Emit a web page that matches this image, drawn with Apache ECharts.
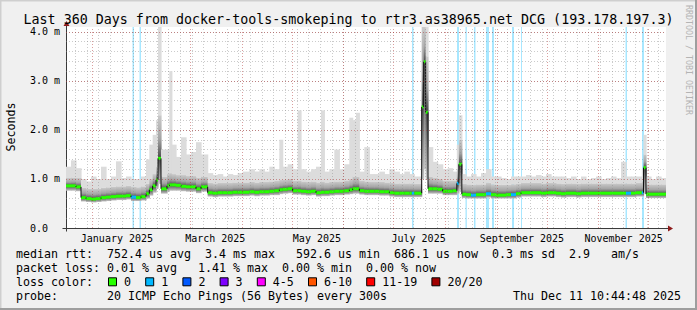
<!DOCTYPE html>
<html><head><meta charset="utf-8">
<script src="https://cdn.jsdelivr.net/npm/echarts@6/dist/echarts.min.js"></script>
<style>html,body{margin:0;padding:0;background:#f0f0f0}#c{width:697px;height:310px}</style>
</head><body><div id="c"></div><script>
// ---------- data (days since start of the 360-day window) ----------
const START = Date.UTC(2024, 11, 16, 10, 44, 48);
const DAY = 86400000;
const SPAN_DAYS = 360;

const segStart = [0,3,6,9,12,15,18,21,24,27,30,33,36,39,42,45,
 48,50,52,54,55.2,57,60.6,62,63.5,
 66,69,72,75,78,81,
 85,88,91,94,97,100,103,106,
 110,113,116,119,122,125,
 128,130,133,136,139,141,144,147,150,153,155,158,161,164,167,170,172,174,176,179,182,185,188,191,194,197,200,203,206,207.5,209,
 213.4,214.6,215.8,217.2,220,223,226,229,232,234.5,235.7,237.5,240,243,246,249,252,255,258,261,264,267,270,
 273,276,279,282,285,288,291,294,297,300,303,306,309,312,315,318,321,324,327,330,333,336,339,342,
 345.5,346.5,348,351,354,357];

const median = [0.86,0.86,0.84,0.62,0.60,0.59,0.60,0.62,0.63,0.64,0.65,0.65,0.66,0.63,0.62,0.64,
 0.70,0.78,0.86,0.98,1.42,0.80,0.86,0.88,0.88,
 0.87,0.85,0.84,0.84,0.80,0.84,
 0.72,0.71,0.72,0.72,0.72,0.73,0.73,0.73,
 0.74,0.73,0.74,0.74,0.75,0.76,
 0.78,0.79,0.80,0.76,0.76,0.75,0.74,0.75,0.72,0.73,0.73,0.74,0.75,0.75,0.76,0.78,0.80,0.80,0.76,0.75,0.75,0.75,0.74,0.74,0.72,0.71,0.71,0.71,0.71,0.71,0.71,
 2.47,3.39,2.36,0.80,0.80,0.79,0.75,0.75,0.76,0.91,1.30,0.69,0.68,0.67,0.68,0.68,0.70,0.68,0.67,0.67,0.68,0.68,0.70,
 0.72,0.72,0.72,0.72,0.71,0.72,0.72,0.71,0.70,0.71,0.71,0.70,0.71,0.71,0.71,0.71,0.71,0.71,0.71,0.71,0.71,0.71,0.71,0.72,
 0.72,1.23,0.69,0.69,0.69,0.69];

const smokeLo = [0.76,0.76,0.75,0.54,0.53,0.52,0.53,0.54,0.55,0.56,0.57,0.57,0.58,0.55,0.55,0.56,
 0.60,0.66,0.72,0.80,0.90,0.70,0.74,0.76,0.76,
 0.76,0.75,0.74,0.74,0.71,0.74,
 0.64,0.63,0.64,0.64,0.64,0.65,0.65,0.65,
 0.66,0.65,0.66,0.66,0.67,0.67,
 0.69,0.70,0.71,0.68,0.68,0.67,0.66,0.67,0.64,0.65,0.65,0.66,0.67,0.67,0.68,0.69,0.70,0.70,0.68,0.67,0.67,0.67,0.66,0.66,0.64,0.63,0.63,0.63,0.63,0.63,0.63,
 1.00,1.20,1.00,0.70,0.70,0.70,0.67,0.67,0.67,0.70,0.75,0.61,0.60,0.60,0.60,0.60,0.62,0.60,0.60,0.60,0.60,0.60,0.62,
 0.64,0.64,0.64,0.64,0.63,0.64,0.64,0.63,0.62,0.63,0.63,0.62,0.63,0.63,0.63,0.63,0.63,0.63,0.63,0.63,0.63,0.63,0.63,0.64,
 0.64,0.70,0.61,0.61,0.61,0.61];

const smokeMid = [1.02,1.03,1.02,0.82,0.80,0.80,0.80,0.82,0.83,0.84,0.85,0.85,0.86,0.84,0.83,0.85,
 0.90,1.00,1.10,1.25,2.30,1.05,1.10,1.12,1.10,
 1.08,1.08,1.06,1.06,1.03,1.05,
 0.92,0.91,0.92,0.92,0.92,0.93,0.93,0.93,
 0.94,0.93,0.94,0.94,0.95,0.96,
 0.98,0.99,1.00,0.96,0.97,0.95,0.94,0.95,0.93,0.95,0.93,0.94,0.95,0.95,0.97,1.00,1.05,1.05,0.96,0.95,0.94,0.94,0.94,0.93,0.92,0.91,0.91,0.91,0.91,0.91,0.90,
 4.10,4.10,3.50,1.05,1.02,1.00,0.96,0.96,0.96,1.20,1.80,0.90,0.89,0.88,0.89,0.89,0.92,0.89,0.88,0.88,0.88,0.89,0.90,
 0.92,0.92,0.92,0.92,0.91,0.92,0.92,0.91,0.90,0.91,0.91,0.90,0.91,0.91,0.91,0.91,0.91,0.91,0.91,0.91,0.91,0.91,0.91,0.92,
 0.95,1.50,0.89,0.89,0.89,0.89];

const smokeHi = [1.25,1.38,1.22,1.00,0.95,1.05,1.00,1.25,1.00,1.05,1.36,1.02,1.05,1.00,1.00,1.05,
 1.40,1.70,1.90,2.20,4.10,1.60,1.60,3.20,1.70,
 1.45,1.85,1.50,1.55,1.75,1.50,
 1.12,1.08,1.10,1.05,1.10,1.08,1.12,1.15,
 1.20,1.15,1.20,1.15,1.25,1.20,
 1.80,1.25,1.30,1.20,2.40,1.20,1.15,1.20,1.25,2.40,1.15,1.20,1.60,1.20,1.30,2.25,2.20,2.35,1.15,1.65,1.10,1.10,1.15,1.10,1.20,1.15,1.10,1.15,1.10,1.10,1.05,
 4.10,4.10,4.10,1.65,1.35,1.30,1.20,1.22,1.15,1.70,2.30,1.10,1.05,1.10,1.05,1.12,1.20,1.05,1.05,1.02,1.00,1.05,1.05,
 1.05,1.08,1.05,1.08,1.05,1.10,1.05,1.05,1.05,1.02,1.05,1.00,1.05,1.00,1.02,1.05,1.00,1.02,1.05,1.02,1.35,1.05,1.05,1.05,
 1.20,1.90,1.05,1.00,1.05,1.02];

const lossLevel = [0,0,0,0,0,0,0,0,0,0,0,0,0,1,0,0,
 0,0,0,0,0,0,0,0,0,
 0,0,0,0,0,0,
 0,0,0,0,0,0,0,0,
 0,0,0,0,0,0,
 0,0,0,0,0,0,0,0,0,0,0,0,0,0,0,0,0,0,0,0,0,0,0,0,0,0,0,0,0,1,0,
 0,0,0,0,0,0,0,0,0,1,0,0,0,1,0,0,1,0,0,0,0,1,0,
 0,0,0,0,0,0,0,0,0,0,0,0,0,0,0,0,0,0,0,0,0,1,0,0,
 1,0,0,0,0,0];

// periods with packet loss (background bars), in days
const lossStart = [39.9,44.1,207.6,234.6,239.7,244.8,252.0,255.6,267.6,273.0,335.7,345.6];
const lossEnd   = [40.8,45.0,208.5,235.8,240.5,245.7,253.8,256.8,268.8,273.6,336.6,346.8];

const lossNames  = ['0','1','2','3','4-5','6-10','11-19','20/20'];
const lossColors = ['#26ff00','#00b8ff','#0059ff','#7e00ff','#ff00ff','#ff5500','#ff0000','#a10000'];

const monthLabels = ['January 2025','March 2025','May 2025','July 2025','September 2025','November 2025'];
const monthLabelMonths = [0,2,4,6,8,10]; // labels sit mid-month (16th) of 2025
const yLabels = ['0.0','1.0 m','2.0 m','3.0 m','4.0 m'];

const titleText = 'Last 360 Days from docker-tools-smokeping to rtr3.as38965.net DCG (193.178.197.3)';
const legendLines = [
 'median rtt:  752.4 us avg  3.4 ms max   592.6 us min  686.1 us now  0.3 ms sd  2.9   am/s',
 'packet loss: 0.01 % avg   1.41 % max  0.00 % min  0.00 % now',
 'loss color:',
 'probe:       20 ICMP Echo Pings (56 Bytes) every 300s'
];
const dateText = 'Thu Dec 11 10:44:48 2025';

// ---------- derived ----------
const toDay = ms => (ms - START) / DAY;
const labelDays = monthLabelMonths.map(m => toDay(Date.UTC(2025, m, 16)));
const monthLineDays = [];
for (let m = 0; m < 12; m++) { if (m !== 1) monthLineDays.push(toDay(Date.UTC(2025, m, 1))); }
const weekDays = [];
for (let d = Date.UTC(2024, 11, 22); d < START + SPAN_DAYS * DAY; d += 7 * DAY) weekDays.push(toDay(d));

const n = segStart.length;
const segData = segStart.map((t, i) => [t, i < n - 1 ? segStart[i + 1] : SPAN_DAYS, smokeLo[i], median[i], smokeMid[i], smokeHi[i], lossLevel[i], i > 0 ? median[i - 1] : median[i]]);
const lossData = lossStart.map((s, i) => [s, lossEnd[i]]);

const MONO = "'DejaVu Sans Mono', monospace";
const MINOR = 'rgba(140,140,140,0.45)';
const MAJOR = 'rgba(170,40,40,0.45)';
const YMAX = 4.1;

const chart = echarts.init(document.getElementById('c'), null, {renderer: 'svg', width: 697, height: 310});

function smokeItem(params, api) {
  const cs = params.coordSys;
  const t0 = api.value(0), t1 = api.value(1);
  const lo = api.value(2), med = api.value(3), mid = api.value(4), hi = api.value(5);
  const x0 = api.coord([t0, 0])[0], x1 = api.coord([t1, 0])[0];
  const Y = v => Math.max(cs.y, api.coord([t0, Math.min(v, YMAX)])[1]);
  const w = x1 - x0 + 0.6;
  return {type: 'group', children: [
    {type: 'rect', shape: {x: x0, y: Y(hi), width: w, height: Y(mid) - Y(hi)}, style: {fill: '#dcdcdc'}},
    {type: 'rect', shape: {x: x0, y: Y(mid), width: w, height: Y(med) - Y(mid)},
      style: {fill: new echarts.graphic.LinearGradient(0, 0, 0, 1, [{offset: 0, color: '#cacaca'}, {offset: 0.55, color: '#a4a4a4'}, {offset: 1, color: '#4a4a4a'}])}},
    {type: 'rect', shape: {x: x0, y: Y(med), width: w, height: Y(lo) - Y(med)},
      style: {fill: new echarts.graphic.LinearGradient(0, 0, 0, 1, [{offset: 0, color: '#4a4a4a'}, {offset: 0.5, color: '#8a8a8a'}, {offset: 1, color: '#c4c4c4'}])}}
  ]};
}

function medianItem(params, api) {
  const cs = params.coordSys;
  const t0 = api.value(0), t1 = api.value(1);
  const med = api.value(3), lvl = api.value(6), prev = api.value(7);
  const x0 = api.coord([t0, 0])[0], x1 = api.coord([t1, 0])[0];
  const Y = v => Math.max(cs.y, api.coord([t0, Math.min(v, YMAX)])[1]);
  const children = [
    {type: 'rect', shape: {x: x0, y: Y(med) - 1.5, width: x1 - x0, height: 3}, style: {fill: lossColors[lvl]}}
  ];
  if (Math.abs(prev - med) > 0.02) {
    children.push({type: 'line', shape: {x1: x0, y1: Y(prev), x2: x0, y2: Y(med)}, style: {stroke: '#111', lineWidth: 1}});
  }
  return {type: 'group', children};
}

function lossItem(params, api) {
  const cs = params.coordSys;
  const x0 = api.coord([api.value(0), 0])[0], x1 = api.coord([api.value(1), 0])[0];
  return {type: 'rect', shape: {x: x0, y: cs.y, width: Math.max(1, x1 - x0), height: cs.height}, style: {fill: 'rgba(0,184,255,0.34)'}};
}

const vLine = (d, c) => ({xAxis: d, lineStyle: {color: c, type: [1, 2], width: 1}});
const hLine = (v, c) => ({yAxis: v, lineStyle: {color: c, type: [1, 2], width: 1}});

const option = {
  animation: false,
  backgroundColor: '#f0f0f0',
  grid: {left: 66, top: 27, width: 600, height: 201, show: true, backgroundColor: '#ffffff', borderWidth: 0},
  xAxis: {
    type: 'value', min: 0, max: SPAN_DAYS,
    axisLine: {show: false}, axisTick: {show: false}, splitLine: {show: false},
    axisLabel: {customValues: labelDays, margin: 5, color: '#000', fontFamily: MONO, fontSize: 10,
      formatter: v => { let b = 0; labelDays.forEach((d, i) => { if (Math.abs(d - v) < Math.abs(labelDays[b] - v)) b = i; }); return monthLabels[b]; }}
  },
  yAxis: {
    type: 'value', min: 0, max: YMAX, interval: 0.2,
    axisLine: {show: false}, axisTick: {show: false},
    splitLine: {show: true, showMinLine: false, showMaxLine: false, lineStyle: {color: MINOR, type: [1, 2], width: 1}},
    axisLabel: {align: 'left', margin: 36, color: '#000', fontFamily: MONO, fontSize: 10,
      formatter: v => { const k = Math.round(v); return Math.abs(v - k) < 1e-6 && k < yLabels.length ? yLabels[k] : ''; }}
  },
  series: [
    {type: 'line', data: [[0, 0]], symbol: 'none', lineStyle: {opacity: 0}, silent: true, z: 1,
      markLine: {silent: true, symbol: ['none', 'none'], label: {show: false}, animation: false,
        data: weekDays.map(d => vLine(d, MINOR)).concat(monthLineDays.map(d => vLine(d, MAJOR))).concat([1, 2, 3, 4].map(v => hLine(v, MAJOR)))}},
    {type: 'custom', data: lossData, renderItem: lossItem, silent: true, z: 2, clip: true},
    {type: 'custom', data: segData, renderItem: smokeItem, silent: true, z: 3, clip: true},
    {type: 'custom', data: segData, renderItem: medianItem, silent: true, z: 4, clip: true}
  ],
  graphic: []
};
chart.setOption(option);

// ---------- frame, axes, texts ----------
const p0 = chart.convertToPixel({gridIndex: 0}, [0, 0]);
const pX = chart.convertToPixel({gridIndex: 0}, [SPAN_DAYS, 0]);
const pT = chart.convertToPixel({gridIndex: 0}, [0, YMAX]);
const ox = Math.round(p0[0]) + 0.5, oy = Math.round(p0[1]) + 0.5;
const AX = '#3a3a3a', ARROW = '#8e1b1b';
const g = [
  {type: 'line', shape: {x1: 0, y1: 0.5, x2: 697, y2: 0.5}, style: {stroke: '#cfcfcf', lineWidth: 2}},
  {type: 'line', shape: {x1: 0.5, y1: 0, x2: 0.5, y2: 310}, style: {stroke: '#cfcfcf', lineWidth: 2}},
  {type: 'line', shape: {x1: 0, y1: 309, x2: 697, y2: 309}, style: {stroke: '#9e9e9e', lineWidth: 2}},
  {type: 'line', shape: {x1: 696, y1: 0, x2: 696, y2: 310}, style: {stroke: '#9e9e9e', lineWidth: 2}},
  {type: 'line', shape: {x1: ox - 4, y1: oy, x2: pX[0] + 3, y2: oy}, style: {stroke: AX, lineWidth: 1}},
  {type: 'line', shape: {x1: ox, y1: oy + 3, x2: ox, y2: pT[1] - 2}, style: {stroke: AX, lineWidth: 1}},
  {type: 'polygon', shape: {points: [[pX[0] + 2, oy - 3], [pX[0] + 7, oy], [pX[0] + 2, oy + 3]]}, style: {fill: ARROW}},
  {type: 'polygon', shape: {points: [[ox - 3, pT[1] - 1], [ox, pT[1] - 6], [ox + 3, pT[1] - 1]]}, style: {fill: ARROW}},
  {type: 'text', x: 348.5, y: 19, style: {text: titleText, font: "13.33px 'DejaVu Sans Mono', monospace", fill: '#000', align: 'center', verticalAlign: 'middle'}},
  {type: 'text', x: 10.5, y: 127, rotation: Math.PI / 2, style: {text: 'Seconds', font: "11.6px 'DejaVu Sans Mono', monospace", fill: '#000', align: 'center', verticalAlign: 'middle'}},
  {type: 'text', x: 689, y: 5, rotation: -Math.PI / 2, style: {text: 'RRDTOOL / TOBI OETIKER', font: "8.3px 'DejaVu Sans Mono', monospace", fill: '#b4b4b4', align: 'left', verticalAlign: 'middle'}}
];
const lineY = [254.3, 268.3, 282.3, 296.2];
legendLines.forEach((s, i) => g.push({type: 'text', x: 16, y: lineY[i], style: {text: s, font: "11.63px 'DejaVu Sans Mono', monospace", fill: '#000', align: 'left', verticalAlign: 'middle'}}));
g.push({type: 'text', x: 681, y: lineY[3], style: {text: dateText, font: "11.63px 'DejaVu Sans Mono', monospace", fill: '#000', align: 'right', verticalAlign: 'middle'}});
// loss colour legend boxes
let lx = 108.5;
lossNames.forEach((nm, i) => {
  g.push({type: 'rect', shape: {x: lx, y: lineY[2] - 4.5, width: 8, height: 8}, style: {fill: lossColors[i], stroke: '#000', lineWidth: 1}});
  g.push({type: 'text', x: lx + 15.5, y: lineY[2], style: {text: nm, font: "11.63px 'DejaVu Sans Mono', monospace", fill: '#000', align: 'left', verticalAlign: 'middle'}});
  lx += 15.5 + nm.length * 7 + 14.7;
});
chart.setOption({graphic: g});
</script></body></html>
